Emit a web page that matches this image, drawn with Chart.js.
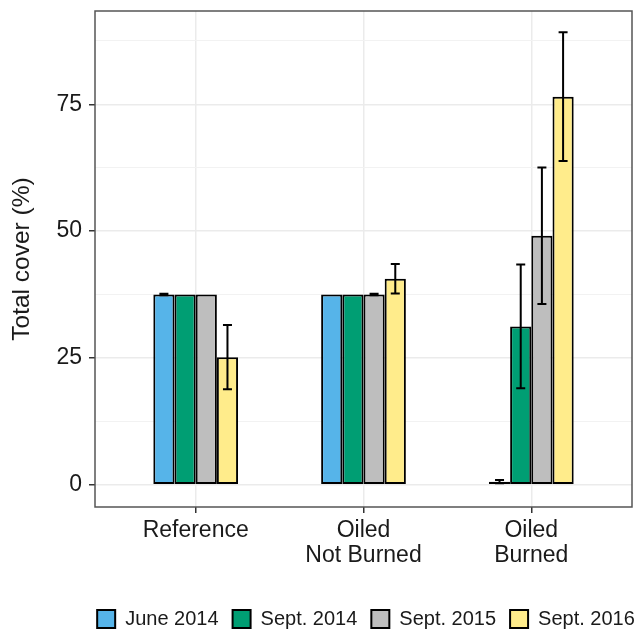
<!DOCTYPE html>
<html>
<head>
<meta charset="utf-8">
<script src="https://cdn.jsdelivr.net/npm/chart.js@4"></script>
<style>
  html, body { margin: 0; padding: 0; background: #ffffff; }
  #wrap { width: 637px; height: 637px; }
</style>
</head>
<body>
<div id="wrap"><canvas id="c" width="637" height="637"></canvas></div>
<script>
// ---- data ----
const categories = ['Reference', 'Oiled\nNot Burned', 'Oiled\nBurned'];
const categoryPositions = [1, 2, 3];
const seriesNames = ['June 2014', 'Sept. 2014', 'Sept. 2015', 'Sept. 2016'];
const june2014 = [37.5, 37.5, 0.6];
const sept2014 = [37.5, 37.5, 31.2];
const sept2015 = [37.5, 37.5, 49.1];
const sept2016 = [25.15, 40.6, 76.5];
const june2014Err = [0.15, 0, 0.3];
const sept2014Err = [0, 0, 12.2];
const sept2015Err = [0, 0.15, 13.45];
const sept2016Err = [6.35, 2.9, 12.7];
const yTickValues = [0, 25, 50, 75];
const yMinorValues = [12.5, 37.5, 62.5, 87.5];

const seriesValues = [june2014, sept2014, sept2015, sept2016];
const seriesErrors = [june2014Err, sept2014Err, sept2015Err, sept2016Err];
const seriesColors = ['#56B4E9', '#009E73', '#BEBEBE', '#FFEC8B'];

const datasets = seriesNames.map((name, i) => ({
  label: name,
  data: seriesValues[i].map((v, j) => ({ x: categoryPositions[j], y: v })),
  errors: seriesErrors[i],
  backgroundColor: seriesColors[i],
  borderColor: '#000000',
  borderWidth: 2,
  borderSkipped: false,
  categoryPercentage: 0.505,
  barPercentage: 1.0
}));

const FONT = "'Liberation Sans', Arial, sans-serif";

const errorBarPlugin = {
  id: 'errorBars',
  afterDatasetsDraw(chart) {
    const ctx = chart.ctx;
    const y = chart.scales.y;
    ctx.save();
    ctx.strokeStyle = '#000000';
    ctx.lineWidth = 2;
    chart.data.datasets.forEach((ds, i) => {
      const meta = chart.getDatasetMeta(i);
      meta.data.forEach((bar, j) => {
        const v = ds.data[j].y;
        const e = ds.errors[j];
        if (!e) return;
        const top = y.getPixelForValue(v + e);
        const bot = y.getPixelForValue(v - e);
        const cw = 4.5;
        ctx.beginPath();
        ctx.moveTo(bar.x, top); ctx.lineTo(bar.x, bot);
        ctx.moveTo(bar.x - cw, top); ctx.lineTo(bar.x + cw, top);
        ctx.moveTo(bar.x - cw, bot); ctx.lineTo(bar.x + cw, bot);
        ctx.stroke();
      });
    });
    // panel border
    const a = chart.chartArea;
    ctx.strokeStyle = '#555555';
    ctx.lineWidth = 1.5;
    ctx.strokeRect(a.left, a.top, a.right - a.left, a.bottom - a.top);
    ctx.restore();
  }
};

const legendPlacer = {
  id: 'legendPlacer',
  afterLayout(chart) {
    const lg = chart.legend;
    if (!lg) return;
    lg.left = 60;
    lg.right = 672;
    lg.top += 2;
    lg.bottom += 2;
  }
};

new Chart(document.getElementById('c'), {
  type: 'bar',
  data: { datasets },
  options: {
    responsive: false,
    animation: false,
    layout: { padding: { top: 11, right: 5, left: 0, bottom: 0 } },
    plugins: {
      tooltip: { enabled: false },
      legend: {
        position: 'bottom',
        labels: {
          boxWidth: 18,
          boxHeight: 18,
          padding: 14,
          color: '#1a1a1a',
          font: { family: FONT, size: 20 }
        }
      }
    },
    scales: {
      x: {
        type: 'linear',
        min: 0.4,
        max: 3.6,
        offset: false,
        afterBuildTicks(scale) { scale.ticks = categoryPositions.map(v => ({ value: v })); },
        afterFit(scale) { scale.height = 86; scale.paddingLeft = 0; scale.paddingRight = 0; },
        grid: {
          offset: false,
          color: '#EBEBEB',
          lineWidth: 1.5,
          drawTicks: true,
          tickLength: 6,
          tickColor: '#333333',
          tickWidth: 1.5
        },
        border: { display: false },
        ticks: {
          padding: 5,
          maxRotation: 0,
          autoSkip: false,
          color: '#1a1a1a',
          font: { family: FONT, size: 23, lineHeight: 1.1 },
          callback(value) {
            const idx = categoryPositions.indexOf(value);
            return idx >= 0 ? categories[idx].split('\n') : '';
          }
        }
      },
      y: {
        type: 'linear',
        min: -4.4,
        max: 93.4,
        afterBuildTicks(scale) {
          const all = yTickValues.concat(yMinorValues).sort((a, b) => a - b);
          scale.ticks = all.map(v => ({ value: v }));
        },
        afterFit(scale) { scale.width = 95; scale.paddingTop = 0; scale.paddingBottom = 0; },
        grid: {
          color: (c) => (c.tick && yTickValues.includes(c.tick.value)) ? '#EBEBEB' : '#F2F2F2',
          lineWidth: (c) => (c.tick && yTickValues.includes(c.tick.value)) ? 1.5 : 1,
          drawTicks: true,
          tickLength: 6,
          tickColor: (c) => (c.tick && yTickValues.includes(c.tick.value)) ? '#333333' : 'rgba(0,0,0,0)',
          tickWidth: 1.5
        },
        border: { display: false },
        title: {
          display: true,
          text: 'Total cover (%)',
          color: '#1a1a1a',
          font: { family: FONT, size: 24.5 },
          padding: { top: 8, bottom: 0 }
        },
        ticks: {
          padding: 7,
          autoSkip: false,
          color: '#1a1a1a',
          font: { family: FONT, size: 23 },
          callback(value) { return yTickValues.includes(value) ? String(value) : ''; }
        }
      }
    }
  },
  plugins: [errorBarPlugin, legendPlacer]
});
</script>
</body>
</html>
